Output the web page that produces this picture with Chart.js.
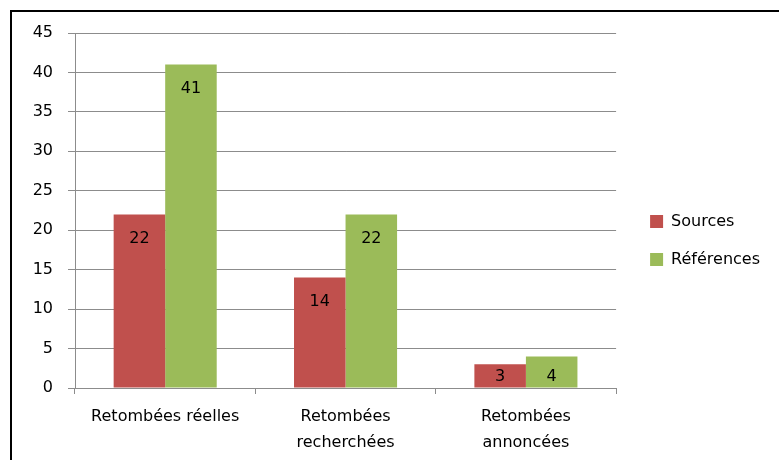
<!DOCTYPE html>
<html>
<head>
<meta charset="utf-8">
<script src="https://cdn.jsdelivr.net/npm/chart.js@4/dist/chart.umd.min.js"></script>
<style>
	html, body { margin: 0; padding: 0; background: #fff; }
	#wrap { width: 779px; height: 460px; position: relative; }
</style>
</head>
<body>
<div id="wrap"><canvas id="myChart"></canvas></div>
<script>
/**
 * Retombées chart
 */

const categories = ['Retombées réelles', ['Retombées', 'recherchées'], ['Retombées', 'annoncées']];
const sources = [22, 14, 3];
const references = [41, 22, 4];
const yTicks = [0, 5, 10, 15, 20, 25, 30, 35, 40, 45];

const font = 'DejaVu Sans';
const gridColor = '#8c8c8c';

// black frame around the chart (left + top edges visible)
const framePlugin = {
	id: 'frame',
	beforeDraw(chart) {
		let ctx = chart.ctx;
		ctx.save();
		ctx.fillStyle = '#fff';
		ctx.fillRect(0, 0, chart.width, chart.height);
		ctx.strokeStyle = '#000';
		ctx.lineWidth = 2;
		ctx.beginPath();
		ctx.moveTo(11, chart.height);
		ctx.lineTo(11, 11);
		ctx.lineTo(chart.width, 11);
		ctx.stroke();
		ctx.restore();
	}
};

// value labels inside the bars
const labelPlugin = {
	id: 'barLabels',
	afterDatasetsDraw(chart) {
		let ctx = chart.ctx;
		ctx.save();
		ctx.font = '16px "' + font + '"';
		ctx.fillStyle = '#000';
		ctx.textAlign = 'center';
		ctx.textBaseline = 'middle';
		chart.data.datasets.forEach((ds, i) => {
			chart.getDatasetMeta(i).data.forEach((bar, j) => {
				let y = Math.min(bar.y + 24, bar.base - 11);
				ctx.fillText(ds.data[j], bar.x, y);
			});
		});
		ctx.restore();
	}
};

let myChart = document.getElementById('myChart').getContext('2d');

let barChart = new Chart(myChart, {
	type: 'bar',
	data: {
		labels: categories,
		datasets: [{
			label: 'Sources',
			data: sources,
			backgroundColor: '#c0504d'
		}, {
			label: 'Références',
			data: references,
			backgroundColor: '#9bbb59'
		}]
	},
	options: {
		responsive: true,
		maintainAspectRatio: false,
		animation: false,
		barPercentage: 1,
		categoryPercentage: 1 / 1.75,
		layout: {
			padding: { left: 0, top: 33, right: 9, bottom: 12 }
		},
		plugins: {
			tooltip: { enabled: false },
			legend: {
				position: 'right',
				labels: {
					boxWidth: 13,
					boxHeight: 13,
					padding: 22,
					color: '#000',
					font: { family: font, size: 16 }
				}
			}
		},
		scales: {
			x: {
				grid: {
					drawOnChartArea: false,
					drawTicks: true,
					tickLength: 6,
					color: gridColor
				},
				border: { color: gridColor },
				ticks: {
					color: '#000',
					padding: 10,
					font: { family: font, size: 16, lineHeight: 1.6 }
				},
				afterFit(s) { s.height = 60; }
			},
			y: {
				min: 0,
				max: 45,
				grid: { color: gridColor, tickLength: 7 },
				border: { color: gridColor },
				afterBuildTicks(s) { s.ticks = yTicks.map(v => ({ value: v })); },
				ticks: {
					color: '#000',
					padding: 15,
					font: { family: font, size: 16 }
				},
				afterFit(s) { s.width = 75; }
			},
			// empty spacer between plot and legend
			gap: {
				position: 'right',
				display: false,
				afterFit(s) { s.width = 12; }
			}
		}
	},
	plugins: [framePlugin, labelPlugin]
});
</script>
</body>
</html>
